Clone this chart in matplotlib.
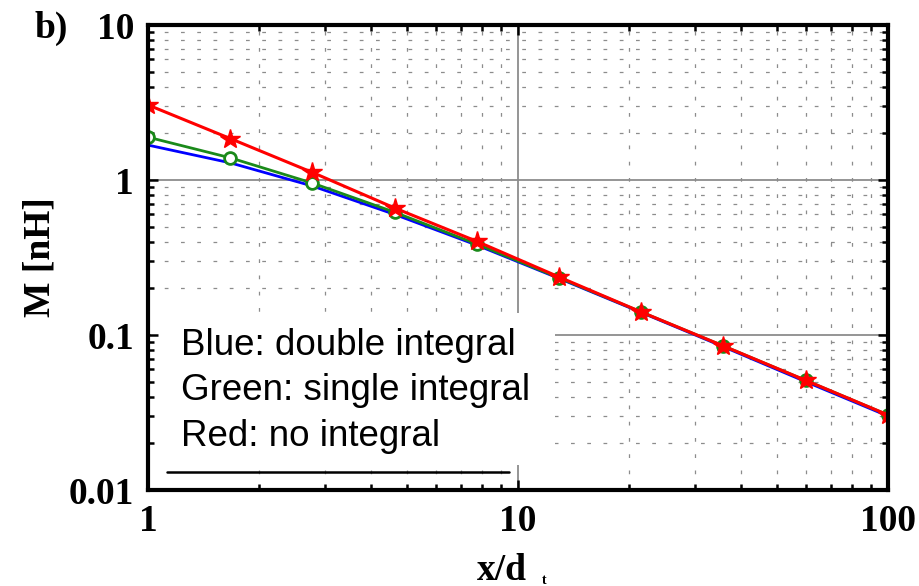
import matplotlib as mpl
mpl.use('Agg')
import matplotlib.pyplot as plt
from matplotlib.patches import Rectangle
from matplotlib.lines import Line2D
from matplotlib.ticker import FixedLocator, NullFormatter
import numpy as np

# x/d positions of the computed points
x_vals = [1, 1.67, 2.78, 4.64, 7.74, 12.9, 21.5, 35.9, 59.9, 100]

# mutual inductance [nH]
m_double = [1.68, 1.29, 0.915, 0.60, 0.38, 0.232, 0.140, 0.084, 0.050, 0.030]
m_single = [1.89, 1.39, 0.956, 0.62, 0.386, 0.234, 0.141, 0.085, 0.051, 0.0305]
m_none = [3.05, 1.85, 1.12, 0.66, 0.402, 0.237, 0.141, 0.085, 0.051, 0.0305]

x_ticks = [1, 10, 100]
x_ticklabels = ['1', '10', '100']
y_ticks = [0.01, 0.1, 1, 10]
y_ticklabels = ['0.01', '0.1', '1', '10']

legend_lines = ['Blue: double integral', 'Green: single integral', 'Red: no integral']

serif = ['Liberation Serif', 'DejaVu Serif']
sans = ['Liberation Sans', 'DejaVu Sans']

fig = plt.figure(figsize=(9.2, 5.86), dpi=100)
ax = fig.add_axes([0.1609, 0.1638, 0.8043, 0.7935])

ax.set_xscale('log')
ax.set_yscale('log')
ax.set_xlim(1, 100)
ax.set_ylim(0.01, 10)

# grid drawn by hand so the white text box can sit over it
minor_x = [m * d for d in (1, 10) for m in range(2, 10)]
minor_y = [m * d for d in (0.01, 0.1, 1) for m in range(2, 10)]
for xv in minor_x:
    ax.axvline(xv, color='#8c8c8c', lw=0.9, ls=(0, (3, 10)), zorder=0.8)
for yv in minor_y:
    ax.axhline(yv, color='#8c8c8c', lw=0.9, ls=(0, (3, 10)), zorder=0.8)
ax.axvline(10, color='#8c8c8c', lw=1.3, zorder=0.9)
for yv in (0.1, 1):
    ax.axhline(yv, color='#8c8c8c', lw=1.3, zorder=0.9)

ax.plot(x_vals, m_double, color='#0000ff', lw=2.0, zorder=3)
ax.plot(x_vals, m_single, color='#1a8a1a', lw=2.0, marker='o', ms=8.5,
        mfc='white', mec='#1a8a1a', mew=2.0, zorder=4)
ax.plot(x_vals, m_none, color='#ff0000', lw=2.2, marker='*', ms=15,
        mfc='#ff0000', mec='#ff0000', zorder=5)

# white text box in the lower left
ax.add_patch(Rectangle((0.004, 0.054), 0.546, 0.327, transform=ax.transAxes,
                       facecolor='white', edgecolor='none', zorder=1))
ax.add_line(Line2D([0.026, 0.488], [0.039, 0.039], transform=ax.transAxes,
                   color='black', lw=1.8, solid_capstyle='round', zorder=3))
for i, txt in enumerate(legend_lines):
    ax.text(0.044, 0.31 - i * 0.097, txt, transform=ax.transAxes,
            fontsize=26.5, family=sans, va='center', ha='left', zorder=3)

ax.xaxis.set_major_locator(FixedLocator(x_ticks))
ax.set_xticklabels(x_ticklabels)
ax.yaxis.set_major_locator(FixedLocator(y_ticks))
ax.set_yticklabels(y_ticklabels)
ax.xaxis.set_minor_formatter(NullFormatter())
ax.yaxis.set_minor_formatter(NullFormatter())

ax.tick_params(which='both', direction='in', top=True, right=True, color='black')
ax.tick_params(which='major', length=7, width=1.8, pad=10)
ax.tick_params(which='minor', length=4, width=1.8)
for lab in ax.get_xticklabels() + ax.get_yticklabels():
    lab.set_fontfamily(serif)
    lab.set_fontweight('bold')
    lab.set_fontsize(27)

for sp in ax.spines.values():
    sp.set_linewidth(3.0)
    sp.set_zorder(6)

ax.set_ylabel('M [nH]', fontsize=27, fontweight='bold', family=serif, labelpad=8)
fig.text(0.546, 0.027, 'x/d', fontsize=27, fontweight='bold', family=serif,
         ha='center', va='center')
fig.text(0.592, 0.02, 't', fontsize=10, fontweight='bold', family=serif,
         ha='center', va='top')
fig.text(0.038, 0.952, 'b)', fontsize=27, fontweight='bold', family=serif,
         ha='left', va='center')

fig.savefig('out.png', dpi=100)
